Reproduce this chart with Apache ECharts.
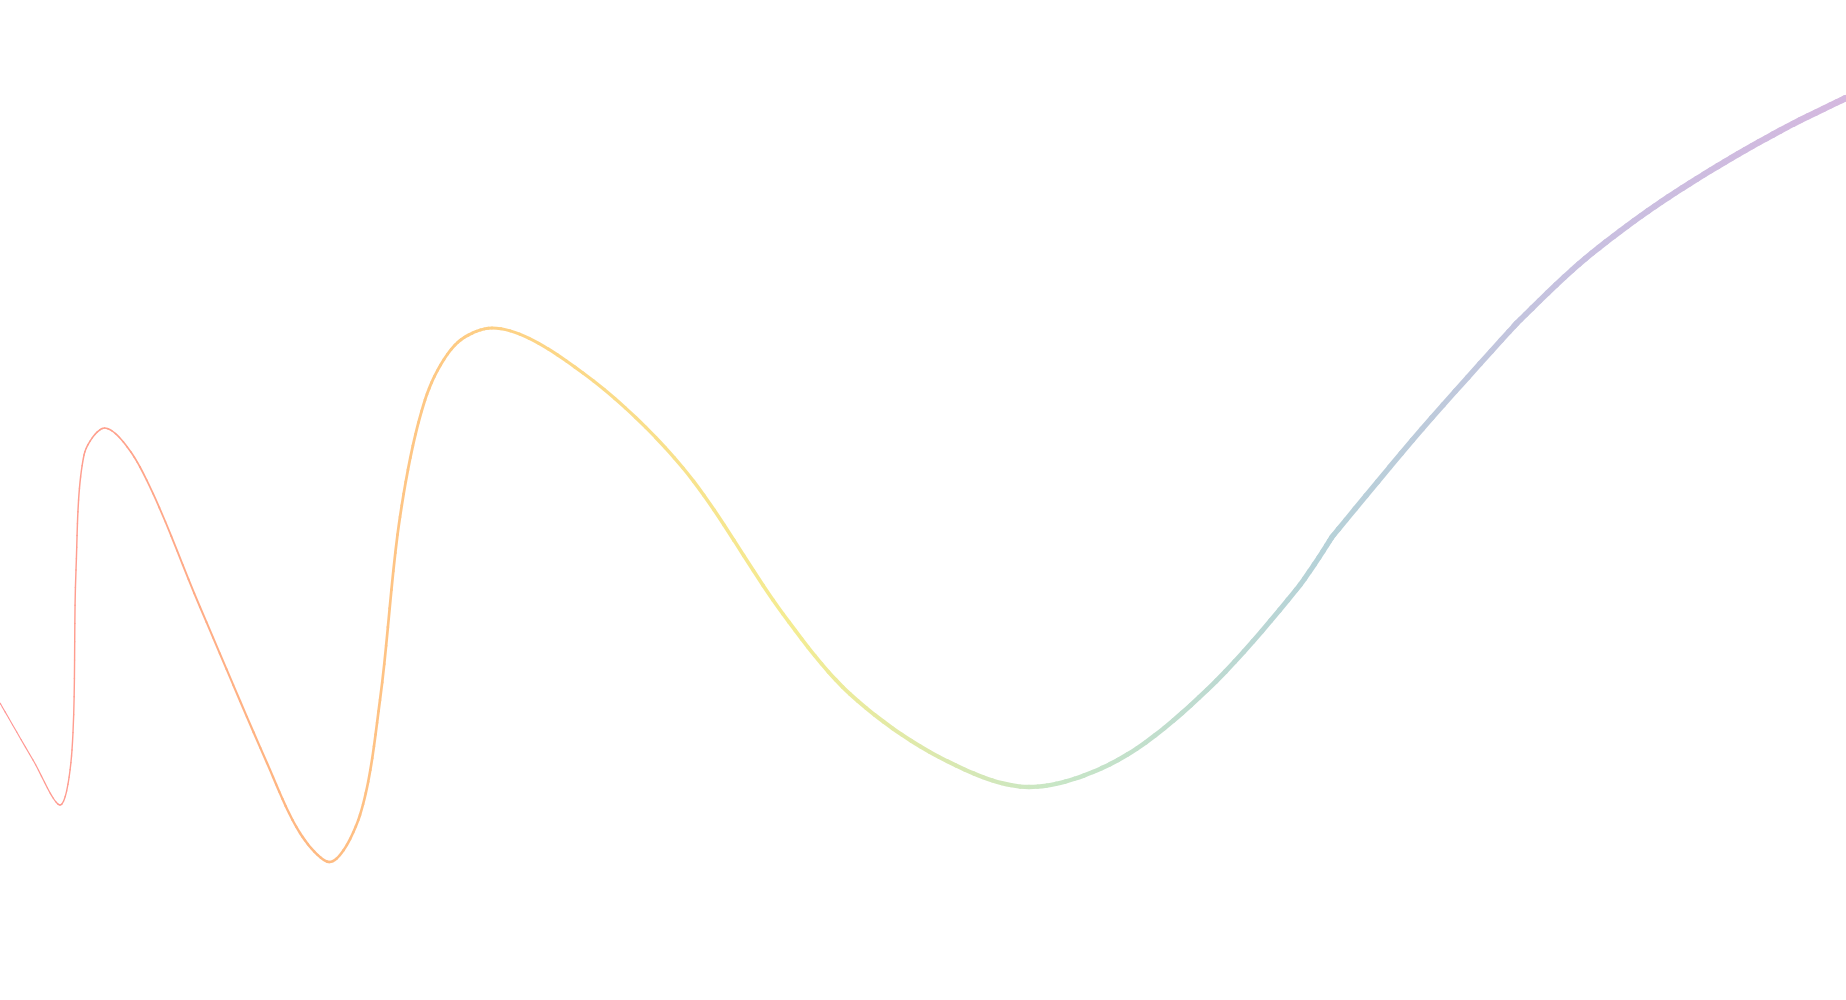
<!DOCTYPE html>
<html>
<head>
<meta charset="utf-8">
<script src="https://cdn.jsdelivr.net/npm/echarts@6/dist/echarts.min.js"></script>
<style>
  html, body { margin: 0; padding: 0; background: #ffffff; }
  #chart { width: 1846px; height: 1000px; }
</style>
</head>
<body>
<div id="chart"></div>
<script>
// Curve values (x in 0..184.6, y in 0..100)
const xValues = [0, 3.3, 6.0, 7.2, 7.6, 8.4, 10.45, 14.0, 20.0, 26.7, 30.0, 32.95, 36.0, 38.0, 40.0, 42.5, 45.5, 49.2,
  58.3, 68.3, 78.3, 85.0, 93.9, 102.9, 111.8, 120.7, 129.6, 133.2, 142.2, 151.6, 157.9, 164.8, 171.8, 178.7, 184.6];
const yValues = [29.7, 24.0, 19.5, 25.0, 43.0, 54.5, 57.2, 53.3, 39.3, 23.7, 16.7, 13.8, 18.5, 30.0, 48.3, 60.0, 65.5, 67.2,
  62.7, 53.2, 38.6, 30.6, 24.3, 21.3, 24.0, 31.0, 41.0, 46.3, 57.1, 67.6, 73.6, 78.9, 83.4, 87.3, 90.2];
// indices of points where one smooth piece ends and the next begins (visible corners)
const pieceBreaks = [27, 29];
// stroke width along the curve
const widthStopsX = [0, 10.45, 32.95, 49.2, 75.3, 102.9, 133.2, 184.6];
const widthStopsW = [1, 1.6, 2.5, 3.0, 3.6, 4.3, 5.2, 6.5];
// colours along the curve, left to right
const rainbow = ['#ff9494', '#ffb482', '#fdd486', '#f4ec92', '#c8e6c6', '#b6d2d8', '#c8c0e0', '#d4b8df'];

const SMOOTH = 0.32;
const SUBDIV = 10;       // pieces per span so the width can grow gradually
const n = xValues.length;

function widthAt(x) {
  for (let i = 1; i < widthStopsX.length; i++) {
    if (x <= widthStopsX[i]) {
      const t = (x - widthStopsX[i - 1]) / (widthStopsX[i] - widthStopsX[i - 1]);
      return widthStopsW[i - 1] + t * (widthStopsW[i] - widthStopsW[i - 1]);
    }
  }
  return widthStopsW[widthStopsW.length - 1];
}
function clamp(v, a, b) { return Math.max(Math.min(v, Math.max(a, b)), Math.min(a, b)); }
function isBreak(i) { return i === 0 || i === n - 1 || pieceBreaks.indexOf(i) >= 0; }

// constrained smoothing control points for point i: [cpIn, cpOut]
function controlPoints(pts, i) {
  const p = pts[i];
  if (isBreak(i)) return [p, p];
  const a = pts[i - 1], b = pts[i + 1];
  let vx = b[0] - a[0], vy = b[1] - a[1];
  const lp = Math.hypot(p[0] - a[0], p[1] - a[1]);
  const ln = Math.hypot(b[0] - p[0], b[1] - p[1]);
  const r = ln / (ln + lp);
  let nx = clamp(p[0] + vx * SMOOTH * r, b[0], p[0]);
  let ny = clamp(p[1] + vy * SMOOTH * r, b[1], p[1]);
  vx = nx - p[0]; vy = ny - p[1];
  const cx = clamp(p[0] - vx * lp / ln, a[0], p[0]);
  const cy = clamp(p[1] - vy * lp / ln, a[1], p[1]);
  vx = p[0] - cx; vy = p[1] - cy;
  nx = p[0] + vx * ln / lp; ny = p[1] + vy * ln / lp;
  return [[cx, cy], [nx, ny]];
}

function lerp(a, b, t) { return [a[0] + (b[0] - a[0]) * t, a[1] + (b[1] - a[1]) * t]; }
function split(c, t) {
  const p01 = lerp(c[0], c[1], t), p12 = lerp(c[1], c[2], t), p23 = lerp(c[2], c[3], t);
  const p012 = lerp(p01, p12, t), p123 = lerp(p12, p23, t);
  const m = lerp(p012, p123, t);
  return [[c[0], p01, p012, m], [m, p123, p23, c[3]]];
}
function subCurve(c, t0, t1) {
  const left = split(c, t1)[0];
  if (t0 === 0) return left;
  return split(left, t0 / t1)[1];
}

const spanData = xValues.slice(0, -1).map((x, i) => [x, yValues[i], i]);

const chart = echarts.init(document.getElementById('chart'));

chart.setOption({
  animation: false,
  backgroundColor: '#ffffff',
  grid: { left: 0, right: 0, top: 0, bottom: 0 },
  xAxis: { type: 'value', min: 0, max: 184.6, show: false },
  yAxis: { type: 'value', min: 0, max: 100, show: false },
  series: [{
    type: 'custom',
    silent: true,
    clip: false,
    data: spanData,
    encode: { x: 0, y: 1 },
    renderItem: function (params, api) {
      const i = api.value(2);
      const pts = xValues.map((x, j) => api.coord([x, yValues[j]]));
      const curve = [pts[i], controlPoints(pts, i)[1], controlPoints(pts, i + 1)[0], pts[i + 1]];
      const W = api.getWidth();
      const stops = rainbow.map((c, k) => ({ offset: k / (rainbow.length - 1), color: c }));
      const stroke = new echarts.graphic.LinearGradient(0, 0, W, 0, stops, true);
      const children = [];
      for (let s = 0; s < SUBDIV; s++) {
        const c = subCurve(curve, s / SUBDIV, (s + 1) / SUBDIV);
        const midX = xValues[i] + (xValues[i + 1] - xValues[i]) * (s + 0.5) / SUBDIV;
        children.push({
          type: 'bezierCurve',
          shape: {
            x1: c[0][0], y1: c[0][1],
            cpx1: c[1][0], cpy1: c[1][1],
            cpx2: c[2][0], cpy2: c[2][1],
            x2: c[3][0], y2: c[3][1]
          },
          style: {
            fill: null,
            stroke: stroke,
            lineWidth: widthAt(midX),
            lineCap: 'round'
          }
        });
      }
      return { type: 'group', children: children };
    }
  }]
});
</script>
</body>
</html>
